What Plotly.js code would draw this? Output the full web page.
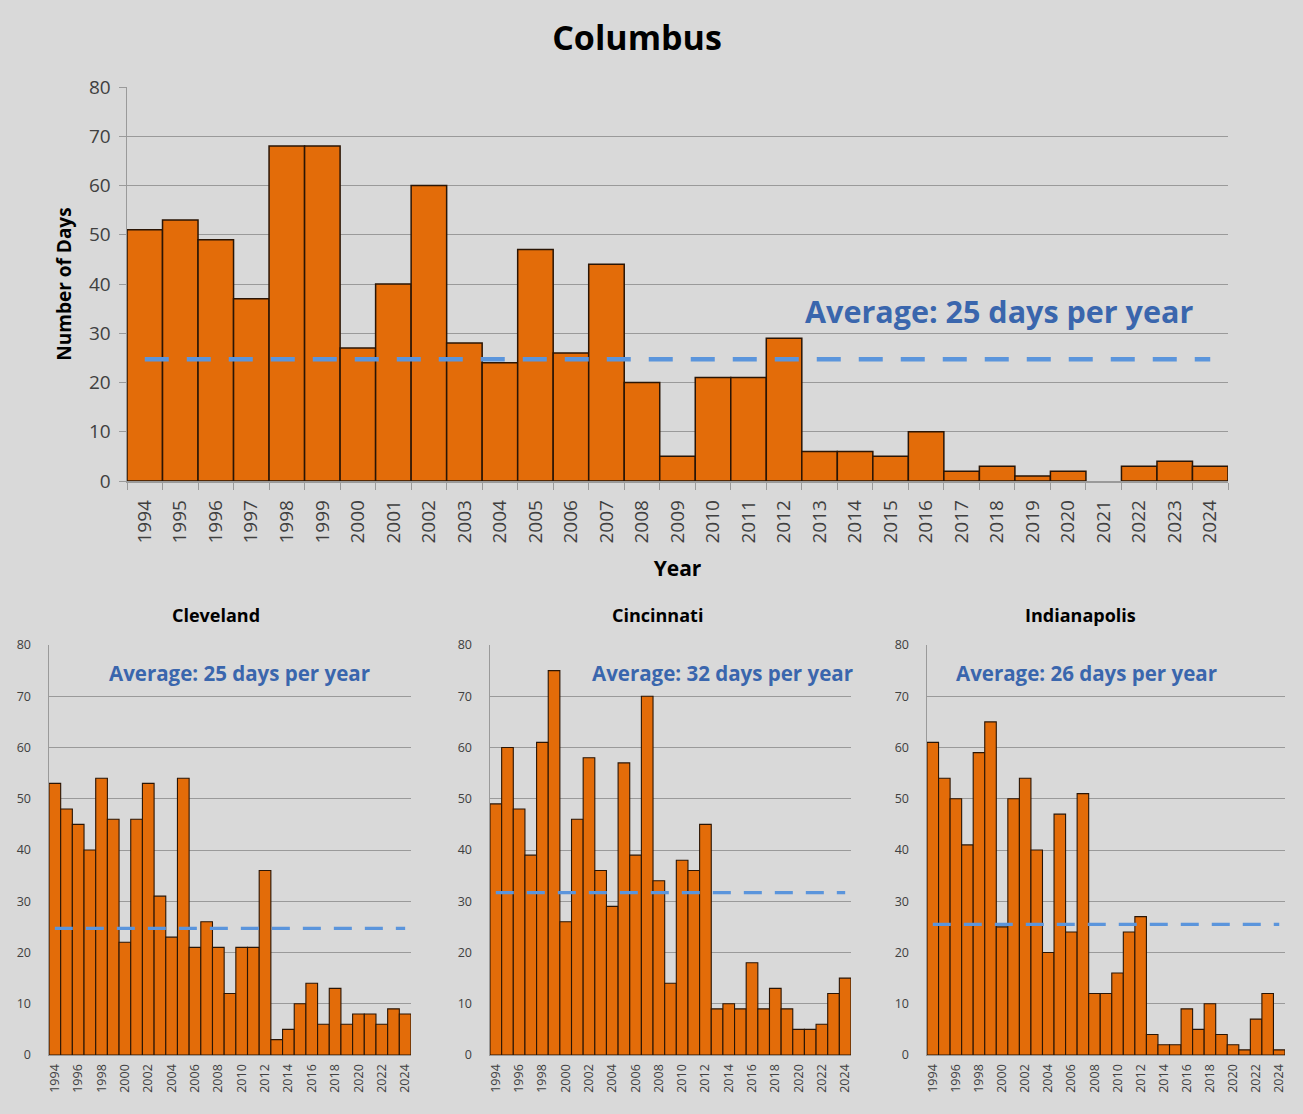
<!DOCTYPE html>
<html>
<head>
<meta charset="utf-8">
<script src="https://cdn.plot.ly/plotly-3.0.1.min.js"></script>
<style>html,body{margin:0;padding:0;background:#d9d9d9;}#chart{width:1303px;height:1114px;}</style>
</head>
<body>
<div id="chart"></div>
<script>
const years = ['1994','1995','1996','1997','1998','1999','2000','2001','2002','2003','2004','2005','2006','2007','2008','2009','2010','2011','2012','2013','2014','2015','2016','2017','2018','2019','2020','2021','2022','2023','2024'];
const evenYears = years.filter((y, i) => i % 2 === 0);

const columbus = [51,53,49,37,68,68,27,40,60,28,24,47,26,44,20,5,21,21,29,6,6,5,10,2,3,1,2,0,3,4,3];
const cleveland = [53,48,45,40,54,46,22,46,53,31,23,54,21,26,21,12,21,21,36,3,5,10,14,6,13,6,8,8,6,9,8];
const cincinnati = [49,60,48,39,61,75,26,46,58,36,29,57,39,70,34,14,38,36,45,9,10,9,18,9,13,9,5,5,6,12,15];
const indianapolis = [61,54,50,41,59,65,25,50,54,40,20,47,24,51,12,12,16,24,27,4,2,2,9,5,10,4,2,1,7,12,1];

const cityNames = ['Columbus','Cleveland','Cincinnati','Indianapolis'];
const avgLines = [24.7, 24.7, 31.7, 25.5];
const avgLabels = ['Average: 25 days per year','Average: 25 days per year','Average: 32 days per year','Average: 26 days per year'];

const orange = '#e36c09';
const barEdge = '#2a1505';
const dashBlue = '#5b95dc';
const textBlue = '#3a66ad';
const font = '"Open Sans", "Noto Sans", sans-serif';

const series = [columbus, cleveland, cincinnati, indianapolis];
const axSuffix = ['', '2', '3', '4'];

const traces = [];
series.forEach((vals, i) => {
  const lw = i === 0 ? 1.5 : 1.1;
  traces.push({
    type: 'bar', x: years, y: vals,
    xaxis: 'x' + axSuffix[i], yaxis: 'y' + axSuffix[i],
    marker: {color: orange, line: {color: barEdge, width: vals.map(v => v === 0 ? 0 : lw)}},
    hoverinfo: 'x+y', showlegend: false
  });
  traces.push({
    type: 'scatter', mode: 'lines', x: years, y: years.map(() => avgLines[i]),
    xaxis: 'x' + axSuffix[i], yaxis: 'y' + axSuffix[i],
    line: {color: dashBlue, width: i === 0 ? 4.5 : 3.2, dash: i === 0 ? '24px,18px' : '18px,13px'},
    hoverinfo: 'skip', showlegend: false
  });
});

const W = 1303, H = 1114;
const px = v => v / W;
const py = v => 1 - v / H;

function yax(domTop, domBot, size) {
  return {
    domain: [py(domBot), py(domTop)], range: [0, 80], dtick: 10,
    showgrid: true, gridcolor: '#9a9a9a', gridwidth: 1,
    zeroline: false, showline: true, linecolor: '#9a9a9a', linewidth: 1.5,
    ticks: 'outside', ticklen: 7, tickcolor: '#9a9a9a',
    tickfont: {family: font, size: size, color: '#404040'}, fixedrange: true
  };
}

const layout = {
  width: W, height: H,
  paper_bgcolor: '#d9d9d9', plot_bgcolor: '#d9d9d9',
  margin: {l: 0, r: 0, t: 0, b: 0},
  bargap: 0,
  font: {family: font},
  title: {text: '<b>Columbus</b>', x: 637 / W, xanchor: 'center', y: py(38), yanchor: 'middle',
          font: {family: font, size: 34, color: '#000'}},
  xaxis: {
    domain: [px(127), px(1228)], type: 'category', anchor: 'y',
    tickson: 'boundaries', ticks: 'outside', ticklen: 7, tickcolor: '#9a9a9a',
    tickangle: -90, tickfont: {family: font, size: 19, color: '#404040'}, ticklabelstandoff: 10,
    showline: true, linecolor: '#9a9a9a', linewidth: 1.5, showgrid: false,
    title: {text: '<b>Year</b>', font: {family: font, size: 21, color: '#000'}, standoff: 18},
    fixedrange: true
  },
  yaxis: Object.assign(yax(87, 481, 19), {
    anchor: 'x', ticklabelstandoff: 4,
    title: {text: '<b>Number of Days</b>', font: {family: font, size: 19, color: '#000'}, standoff: 12}
  }),
  annotations: [],
};

const smallDomains = [[49, 411], [490, 851], [927, 1285]];
const titleX = [216, 658, 1080];
const avgX = [239, 722, 1086];
[1, 2, 3].forEach((i, k) => {
  const s = axSuffix[i];
  layout['xaxis' + s] = {
    domain: [px(smallDomains[k][0]), px(smallDomains[k][1])], type: 'category', anchor: 'y' + s,
    tickmode: 'array', tickvals: evenYears, ticktext: evenYears,
    ticks: '', tickangle: -90, tickfont: {family: font, size: 12.5, color: '#404040'}, ticklabelstandoff: 3,
    showline: true, linecolor: '#9a9a9a', linewidth: 1.2, showgrid: false, fixedrange: true
  };
  layout['yaxis' + s] = Object.assign(yax(645, 1055, 12.5), {anchor: 'x' + s, ticks: '', ticklen: 0, ticklabelstandoff: 14});
  layout.annotations.push({
    xref: 'paper', yref: 'paper', x: px(titleX[k]), y: py(615), xanchor: 'center', yanchor: 'middle',
    text: '<b>' + cityNames[i] + '</b>', showarrow: false, font: {family: font, size: 18, color: '#000'}
  });
  layout.annotations.push({
    xref: 'paper', yref: 'paper', x: px(avgX[k]), y: py(673), xanchor: 'center', yanchor: 'middle',
    text: '<b>' + avgLabels[i] + '</b>', showarrow: false, font: {family: font, size: 20.5, color: textBlue}
  });
});
layout.annotations.push({
  xref: 'paper', yref: 'paper', x: px(999), y: py(311), xanchor: 'center', yanchor: 'middle',
  text: '<b>' + avgLabels[0] + '</b>', showarrow: false, font: {family: font, size: 30.5, color: textBlue}
});

Plotly.newPlot('chart', traces, layout, {displayModeBar: false, staticPlot: true});
</script>
</body>
</html>
